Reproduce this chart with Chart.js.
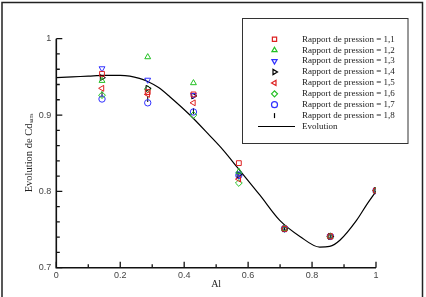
<!DOCTYPE html>
<html>

<head>
    <title>Evolution de Cd</title>
    <meta charset="utf-8" />
    <style>
        body { margin: 0; background: #fff; }
        canvas { display: block; }
    </style>
</head>

<body>
    <canvas id="myChart" width="426" height="297"></canvas>

    <script src="https://cdn.jsdelivr.net/npm/chart.js"></script>
    <script type="text/javascript">
        // positions along Al where the measurements were taken
        const alValues = [0.143, 0.286, 0.429, 0.571, 0.714, 0.857, 1];

        // one array per pressure ratio
        const rapport11 = [0.954, 0.930, 0.927, 0.837, 0.751, 0.741, 0.801];
        const rapport12 = [0.945, 0.976, 0.942, 0.826, 0.751, 0.741, 0.801];
        const rapport13 = [0.961, 0.946, 0.926, 0.823, 0.751, 0.741, 0.801];
        const rapport14 = [0.949, 0.935, 0.925, 0.822, 0.751, 0.741, 0.801];
        const rapport15 = [0.935, 0.927, 0.916, 0.816, 0.751, 0.741, 0.801];
        const rapport16 = [0.926, 0.934, 0.900, 0.811, 0.751, 0.741, 0.801];
        const rapport17 = [0.921, 0.916, 0.904, 0.821, 0.751, 0.741, 0.801];
        const rapport18 = [0.927, 0.921, 0.905, 0.820, 0.751, 0.741, 0.801];

        // the fitted "Evolution" curve
        const curveX = [0, 0.05, 0.1, 0.15, 0.2, 0.23, 0.26, 0.286, 0.32, 0.355, 0.418, 0.48, 0.52, 0.569, 0.637, 0.699, 0.762, 0.824, 0.855, 0.887, 0.939, 0.97, 1];
        const curveY = [0.949, 0.950, 0.951, 0.952, 0.952, 0.951, 0.948, 0.944, 0.936, 0.924, 0.900, 0.873, 0.855, 0.830, 0.795, 0.762, 0.741, 0.727, 0.728, 0.736, 0.762, 0.782, 0.800];

        const xMajorTicks = [0, 0.2, 0.4, 0.6, 0.8, 1];
        const xMinorTicks = [0.1, 0.3, 0.5, 0.7, 0.9];
        const yMajorTicks = [0.7, 0.8, 0.9, 1];
        const yMinorTicks = [0.72, 0.74, 0.76, 0.78, 0.82, 0.84, 0.86, 0.88, 0.92, 0.94, 0.96, 0.98];
        const xTickLabels = ['0', '0.2', '0.4', '0.6', '0.8', '1'];
        const yTickLabels = ['0.7', '0.8', '0.9', '1'];

        const RED = '#dd2020';
        const GREEN = '#22c022';
        const BLUE = '#3030ff';
        const BLACK = '#000000';

        const series = [
            { label: 'Rapport de pression = 1,1', data: rapport11, color: RED, style: 'rect', rot: 0, r: 3.4 },
            { label: 'Rapport de pression = 1,2', data: rapport12, color: GREEN, style: 'triangle', rot: 0, r: 3.4 },
            { label: 'Rapport de pression = 1,3', data: rapport13, color: BLUE, style: 'triangle', rot: 180, r: 3.4 },
            { label: 'Rapport de pression = 1,4', data: rapport14, color: BLACK, style: 'triangle', rot: 90, r: 3.4 },
            { label: 'Rapport de pression = 1,5', data: rapport15, color: RED, style: 'triangle', rot: 270, r: 3.4 },
            { label: 'Rapport de pression = 1,6', data: rapport16, color: GREEN, style: 'rectRot', rot: 0, r: 3.4 },
            { label: 'Rapport de pression = 1,7', data: rapport17, color: BLUE, style: 'circle', rot: 0, r: 3.2 },
            { label: 'Rapport de pression = 1,8', data: rapport18, color: BLACK, style: 'line', rot: 90, r: 3 }
        ];

        const datasets = series.map((s) => {
            return {
                label: s.label,
                data: alValues.map((x, i) => ({ x: x, y: s.data[i] })),
                showLine: false,
                pointStyle: s.style,
                rotation: s.rot,
                pointRadius: s.r,
                pointHoverRadius: s.r,
                borderColor: s.color,
                backgroundColor: 'rgba(0,0,0,0)',
                pointBorderWidth: 1,
                borderWidth: 1
            };
        });

        datasets.push({
            label: 'Evolution',
            data: curveX.map((x, i) => ({ x: x, y: curveY[i] })),
            showLine: true,
            pointRadius: 0,
            borderColor: BLACK,
            borderWidth: 1.2,
            cubicInterpolationMode: 'monotone',
            fill: false
        });

        // axes, inward ticks, titles, legend box and outer frame
        const decorations = {
            id: 'decorations',
            afterDraw(chart) {
                const ctx = chart.ctx;
                const xs = chart.scales.x;
                const ys = chart.scales.y;
                const left = xs.getPixelForValue(0);
                const right = xs.getPixelForValue(1);
                const bottom = ys.getPixelForValue(0.7);
                const top = ys.getPixelForValue(1);

                ctx.save();
                ctx.strokeStyle = '#111';
                ctx.lineWidth = 1.6;
                ctx.beginPath();
                ctx.moveTo(left, top);
                ctx.lineTo(left, bottom);
                ctx.lineTo(right, bottom);
                ctx.stroke();

                ctx.lineWidth = 1.3;
                ctx.beginPath();
                xMajorTicks.forEach((v) => {
                    const p = xs.getPixelForValue(v);
                    ctx.moveTo(p, bottom);
                    ctx.lineTo(p, bottom - 6);
                });
                xMinorTicks.forEach((v) => {
                    const p = xs.getPixelForValue(v);
                    ctx.moveTo(p, bottom);
                    ctx.lineTo(p, bottom - 3.5);
                });
                yMajorTicks.forEach((v) => {
                    const p = ys.getPixelForValue(v);
                    ctx.moveTo(left, p);
                    ctx.lineTo(left + 6, p);
                });
                yMinorTicks.forEach((v) => {
                    const p = ys.getPixelForValue(v);
                    ctx.moveTo(left, p);
                    ctx.lineTo(left + 3.5, p);
                });
                ctx.stroke();

                // axis titles
                ctx.fillStyle = '#222';
                ctx.font = '10px "Liberation Serif"';
                ctx.textAlign = 'center';
                ctx.textBaseline = 'middle';
                ctx.fillText('Al', (left + right) / 2, 284);

                ctx.save();
                ctx.translate(29, (top + bottom) / 2);
                ctx.rotate(-Math.PI / 2);
                const mainText = 'Evolution de Cd';
                const subText = 'sans';
                ctx.font = '10.5px "Liberation Serif"';
                const w1 = ctx.measureText(mainText).width;
                ctx.font = '5.5px "Liberation Serif"';
                const w2 = ctx.measureText(subText).width;
                const start = -(w1 + w2) / 2;
                ctx.textAlign = 'left';
                ctx.font = '10.5px "Liberation Serif"';
                ctx.fillText(mainText, start, 0);
                ctx.font = '5.5px "Liberation Serif"';
                ctx.fillText(subText, start + w1 + 0.5, 3);
                ctx.restore();

                // legend
                ctx.strokeStyle = '#333';
                ctx.lineWidth = 1;
                ctx.strokeRect(242.5, 18.5, 165.5, 125);
                ctx.font = '9px "Liberation Serif"';
                ctx.textAlign = 'left';
                ctx.textBaseline = 'middle';
                series.forEach((s, i) => {
                    const yy = 39.3 + i * 10.9;
                    ctx.strokeStyle = s.color;
                    ctx.fillStyle = 'rgba(0,0,0,0)';
                    ctx.lineWidth = 1.2;
                    Chart.helpers.drawPoint(ctx, {
                        pointStyle: s.style,
                        rotation: s.rot,
                        radius: s.style === 'line' ? 2.5 : 3,
                        borderWidth: 1.2
                    }, 274.5, yy);
                    ctx.fillStyle = '#222';
                    ctx.fillText(s.label, 302, yy);
                });
                const ey = 39.3 + 8 * 10.9;
                ctx.strokeStyle = BLACK;
                ctx.lineWidth = 1.2;
                ctx.beginPath();
                ctx.moveTo(258, ey);
                ctx.lineTo(295, ey);
                ctx.stroke();
                ctx.fillText('Evolution', 302, ey);

                // outer frame
                ctx.strokeStyle = '#222';
                ctx.lineWidth = 1.5;
                ctx.strokeRect(2, 2.5, 420.5, 300);
                ctx.restore();
            }
        };

        const ctx = document.getElementById('myChart');

        new Chart(ctx, {
            type: 'scatter',
            data: { datasets: datasets },
            options: {
                responsive: false,
                animation: false,
                events: [],
                layout: {
                    padding: { left: 0, top: 38.7, right: 50, bottom: 0 }
                },
                plugins: {
                    legend: { display: false },
                    tooltip: { enabled: false }
                },
                scales: {
                    x: {
                        type: 'linear',
                        min: 0,
                        max: 1,
                        grid: { display: false, drawTicks: false },
                        border: { display: false },
                        afterBuildTicks: (scale) => {
                            scale.ticks = xMajorTicks.map((v) => ({ value: v }));
                        },
                        afterFit: (scale) => {
                            scale.height = 29.3;
                        },
                        ticks: {
                            padding: 2,
                            maxRotation: 0,
                            autoSkip: false,
                            color: '#444',
                            font: { family: 'Liberation Sans', size: 9 },
                            callback: (value, index) => xTickLabels[index]
                        }
                    },
                    y: {
                        type: 'linear',
                        min: 0.7,
                        max: 1,
                        grid: { display: false, drawTicks: false },
                        border: { display: false },
                        afterBuildTicks: (scale) => {
                            scale.ticks = yMajorTicks.map((v) => ({ value: v }));
                        },
                        afterFit: (scale) => {
                            scale.width = 56.3;
                        },
                        ticks: {
                            padding: 5,
                            autoSkip: false,
                            color: '#444',
                            font: { family: 'Liberation Sans', size: 9 },
                            callback: (value, index) => yTickLabels[index]
                        }
                    }
                }
            },
            plugins: [decorations]
        });
    </script>
</body>

</html>
